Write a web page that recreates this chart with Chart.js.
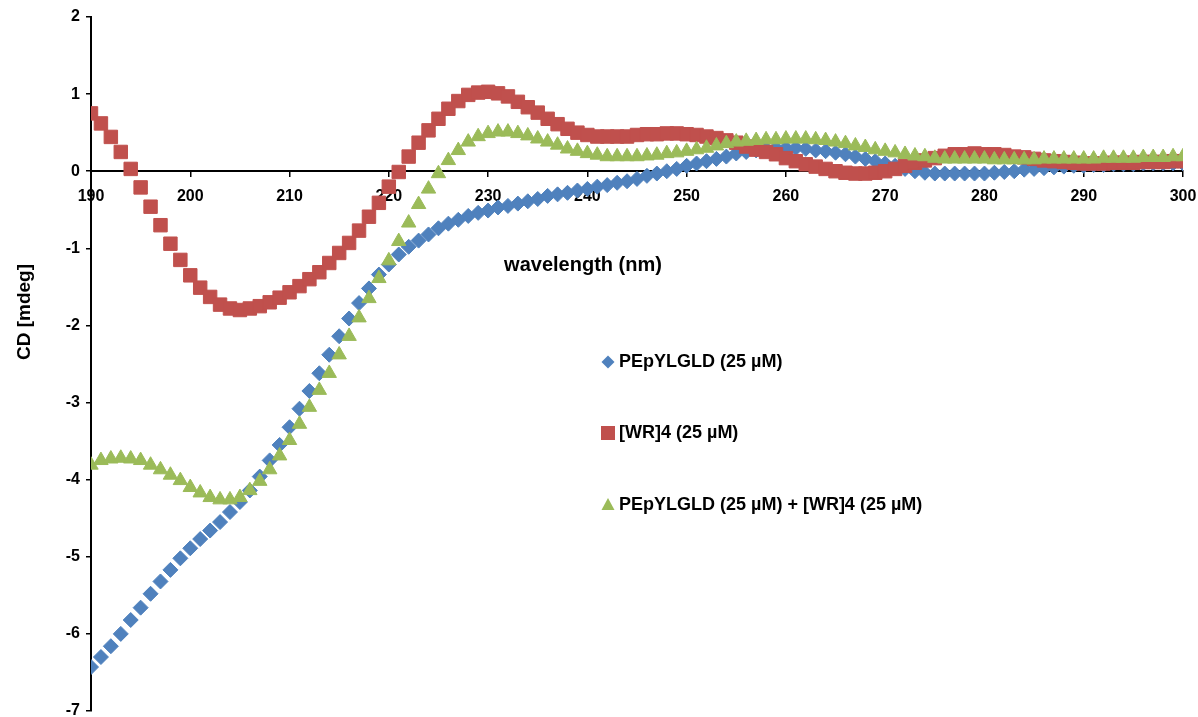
<!DOCTYPE html>
<html>
<head>
<meta charset="utf-8">
<script src="https://cdn.jsdelivr.net/npm/chart.js@4"></script>
<style>
  body { margin: 0; background: #fff; overflow: hidden; }
  #wrap { width: 1198px; height: 717px; }
</style>
</head>
<body>
<div id="wrap"><canvas id="cdChart"></canvas></div>
<script>
// wavelengths, 190..300 nm, one reading per nm
const wavelengths = [];
for (let nm = 190; nm <= 300; nm++) wavelengths.push(nm);

const peptide = [
  -6.43, -6.30, -6.16, -6.00, -5.82, -5.66, -5.48, -5.32, -5.17, -5.02,
  -4.89, -4.77, -4.66, -4.55, -4.42, -4.29, -4.14, -3.96, -3.75, -3.55,
  -3.32, -3.08, -2.85, -2.62, -2.38, -2.14, -1.91, -1.71, -1.52, -1.34,
  -1.21, -1.08, -0.98, -0.90, -0.82, -0.74, -0.68, -0.63, -0.58, -0.54,
  -0.51, -0.47, -0.45, -0.42, -0.39, -0.36, -0.32, -0.30, -0.28, -0.25,
  -0.23, -0.20, -0.18, -0.15, -0.13, -0.10, -0.06, -0.03, 0.00, 0.03,
  0.07, 0.10, 0.13, 0.16, 0.19, 0.23, 0.25, 0.27, 0.29, 0.30,
  0.30, 0.30, 0.29, 0.27, 0.26, 0.24, 0.22, 0.19, 0.16, 0.13,
  0.10, 0.07, 0.03, 0.00, -0.02, -0.03, -0.03, -0.03, -0.03, -0.03,
  -0.03, -0.02, -0.01, 0.00, 0.02, 0.03, 0.04, 0.05, 0.06, 0.07,
  0.07, 0.08, 0.08, 0.09, 0.09, 0.09, 0.10, 0.10, 0.10, 0.10,
  0.10
];

const wr4 = [
  0.75, 0.62, 0.445, 0.25, 0.03, -0.21, -0.46, -0.70, -0.94, -1.15,
  -1.35, -1.51, -1.63, -1.73, -1.78, -1.80, -1.78, -1.75, -1.70, -1.64,
  -1.57, -1.49, -1.40, -1.31, -1.19, -1.06, -0.93, -0.77, -0.59, -0.41,
  -0.20, -0.01, 0.19, 0.37, 0.53, 0.68, 0.81, 0.91, 0.99, 1.02,
  1.03, 1.01, 0.97, 0.90, 0.83, 0.76, 0.68, 0.61, 0.55, 0.50,
  0.47, 0.45, 0.45, 0.45, 0.45, 0.47, 0.48, 0.48, 0.49, 0.49,
  0.48, 0.47, 0.45, 0.43, 0.40, 0.37, 0.32, 0.28, 0.25, 0.22,
  0.17, 0.13, 0.09, 0.06, 0.03, 0.00, -0.02, -0.03, -0.03, -0.02,
  0.00, 0.03, 0.07, 0.11, 0.14, 0.17, 0.20, 0.22, 0.22, 0.23,
  0.22, 0.22, 0.21, 0.19, 0.18, 0.16, 0.14, 0.13, 0.12, 0.11,
  0.10, 0.10, 0.10, 0.11, 0.11, 0.11, 0.12, 0.12, 0.12, 0.13,
  0.13
];

const mixture = [
  -3.81, -3.75, -3.73, -3.72, -3.73, -3.75, -3.81, -3.87, -3.94, -4.01,
  -4.10, -4.17, -4.23, -4.26, -4.26, -4.23, -4.14, -4.02, -3.87, -3.69,
  -3.49, -3.28, -3.06, -2.84, -2.62, -2.38, -2.14, -1.90, -1.65, -1.39,
  -1.16, -0.91, -0.67, -0.43, -0.23, -0.03, 0.14, 0.27, 0.38, 0.45,
  0.49, 0.51, 0.51, 0.49, 0.46, 0.42, 0.38, 0.34, 0.29, 0.26,
  0.23, 0.21, 0.19, 0.19, 0.19, 0.19, 0.20, 0.21, 0.23, 0.24,
  0.26, 0.28, 0.30, 0.33, 0.36, 0.38, 0.39, 0.40, 0.41, 0.41,
  0.42, 0.42, 0.42, 0.41, 0.40, 0.38, 0.36, 0.33, 0.31, 0.28,
  0.26, 0.24, 0.22, 0.20, 0.19, 0.17, 0.16, 0.16, 0.16, 0.16,
  0.16, 0.15, 0.15, 0.15, 0.15, 0.15, 0.16, 0.16, 0.16, 0.16,
  0.16, 0.16, 0.17, 0.17, 0.17, 0.17, 0.18, 0.18, 0.18, 0.19,
  0.19
];

const seriesNames = ['PEpYLGLD (25 µM)', '[WR]4 (25 µM)', 'PEpYLGLD (25 µM) + [WR]4 (25 µM)'];
const FONT = '"Liberation Sans", Arial, sans-serif';

function toPoints(values) {
  return wavelengths.map((nm, i) => ({ x: nm, y: values[i] }));
}

// titles and legend sit inside the plot area, Excel style
const extras = {
  id: 'extras',
  afterDraw(chart) {
    const c = chart.ctx;
    c.save();
    c.fillStyle = '#000';

    c.font = 'bold 20px ' + FONT;
    c.textAlign = 'center';
    c.textBaseline = 'middle';
    c.fillText('wavelength (nm)', 583, 265);

    c.save();
    c.translate(25, 312);
    c.rotate(-Math.PI / 2);
    c.font = 'bold 19px ' + FONT;
    c.fillText('CD [mdeg]', 0, 0);
    c.restore();

    const rows = [362, 433, 505];
    const colors = ['#4F81BD', '#C0504D', '#9BBB59'];
    c.font = 'bold 18px ' + FONT;
    c.textAlign = 'left';
    rows.forEach((y, i) => {
      const x = 608;
      c.fillStyle = colors[i];
      c.beginPath();
      if (i === 0) {
        c.moveTo(x, y - 6.5); c.lineTo(x + 6.5, y); c.lineTo(x, y + 6.5); c.lineTo(x - 6.5, y);
      } else if (i === 1) {
        c.rect(x - 7, y - 7, 14, 14);
      } else {
        c.moveTo(x, y - 7); c.lineTo(x + 6.5, y + 5); c.lineTo(x - 6.5, y + 5);
      }
      c.closePath();
      c.fill();
      c.fillStyle = '#000';
      c.fillText(seriesNames[i], 619, y);
    });
    c.restore();
  }
};

new Chart(document.getElementById('cdChart'), {
  type: 'scatter',
  data: {
    datasets: [
      {
        label: seriesNames[0],
        data: toPoints(peptide),
        pointStyle: 'rectRot',
        pointRadius: 7.5,
        backgroundColor: '#4F81BD',
        borderColor: '#4F81BD',
        borderWidth: 1,
        order: 3
      },
      {
        label: seriesNames[1],
        data: toPoints(wr4),
        pointStyle: 'rect',
        pointRadius: 9.5,
        backgroundColor: '#C0504D',
        borderColor: '#C0504D',
        borderWidth: 1,
        order: 2
      },
      {
        label: seriesNames[2],
        data: toPoints(mixture),
        pointStyle: 'triangle',
        pointRadius: 8.3,
        backgroundColor: '#9BBB59',
        borderColor: '#9BBB59',
        borderWidth: 1,
        order: 1
      }
    ]
  },
  options: {
    responsive: true,
    maintainAspectRatio: false,
    animation: false,
    layout: { autoPadding: false, padding: { top: 17, right: 15, bottom: 6, left: 0 } },
    plugins: {
      legend: { display: false },
      tooltip: { enabled: false }
    },
    scales: {
      x: {
        type: 'linear',
        min: 190,
        max: 300,
        position: { y: 0 },
        border: { display: true, color: '#000', width: 2 },
        grid: { drawOnChartArea: false, drawTicks: true, tickLength: 5, color: '#000', lineWidth: 1.5 },
        ticks: {
          stepSize: 10,
          padding: 11,
          color: '#000',
          font: { family: FONT, size: 16, weight: 'bold' }
        },
        afterFit(scale) {
          scale.paddingLeft = 0;
          scale.paddingRight = 0;
        }
      },
      y: {
        min: -7,
        max: 2,
        position: 'left',
        border: { display: true, color: '#000', width: 2 },
        grid: { drawOnChartArea: false, drawTicks: true, tickLength: 5, color: '#000', lineWidth: 1.5 },
        ticks: {
          stepSize: 1,
          padding: 6,
          color: '#000',
          font: { family: FONT, size: 16, weight: 'bold' }
        },
        afterFit(scale) {
          scale.width = 91;
          scale.paddingTop = 0;
          scale.paddingBottom = 0;
        }
      }
    }
  },
  plugins: [extras]
});
</script>
</body>
</html>
